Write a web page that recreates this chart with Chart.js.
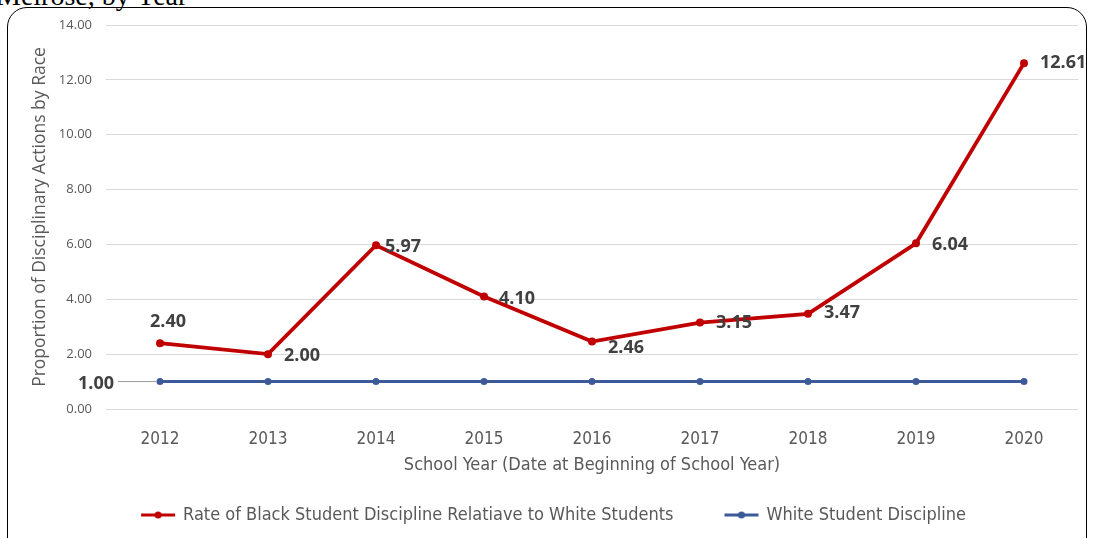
<!DOCTYPE html>
<html>
<head>
<meta charset="utf-8">
<script src="https://cdn.jsdelivr.net/npm/chart.js@4.4.1/dist/chart.umd.min.js"></script>
<style>
  html, body { margin: 0; padding: 0; background: #fff; }
  #wrap { position: relative; width: 1094px; height: 538px; overflow: hidden; }
  #title { position: absolute; left: -4px; top: -20px; font: 28px "Liberation Serif", serif; color: #000; white-space: nowrap; }
  #frame { position: absolute; left: 7px; top: 7px; width: 1078px; height: 560px; border: 1.5px solid #000; border-radius: 20px; }
  canvas { position: absolute; left: 0; top: 0; }
</style>
</head>
<body>
<div id="wrap">
  <div id="title">Melrose, by Year</div>
  <div id="frame"></div>
  <canvas id="c" width="1094" height="538"></canvas>
</div>
<script>
const years = ["2012", "2013", "2014", "2015", "2016", "2017", "2018", "2019", "2020"];
const blackRate = [2.40, 2.00, 5.97, 4.10, 2.46, 3.15, 3.47, 6.04, 12.61];
const whiteRate = [1.00, 1.00, 1.00, 1.00, 1.00, 1.00, 1.00, 1.00, 1.00];
const yTicks = [0, 2, 4, 6, 8, 10, 12, 14];

const RED = "#C00000";
const BLUE = "#3C5A99";
const LABEL_FONT = "bold 18px 'Open Sans', sans-serif";
const NARROW = "'Liberation Sans Narrow', 'DejaVu Sans Condensed', sans-serif";

// where each data label sits relative to its point: [dx, dy, align]
const redLabelPos = [
  [8, -21, "center"], [16, 2, "left"], [9, 2, "left"], [15, 2, "left"], [16, 6, "left"],
  [16, 0, "left"], [16, -1, "left"], [16, 2, "left"], [16, 0, "left"]
];

function legendMarker(color) {
  const c = document.createElement("canvas");
  c.width = 36; c.height = 10;
  const g = c.getContext("2d");
  g.strokeStyle = color; g.lineWidth = 3;
  g.beginPath(); g.moveTo(1, 5); g.lineTo(35, 5); g.stroke();
  g.fillStyle = color;
  g.beginPath(); g.arc(18, 5, 3.5, 0, Math.PI * 2); g.fill();
  return c;
}

const dataLabels = {
  id: "dataLabels",
  afterDatasetsDraw(chart) {
    const ctx = chart.ctx;
    ctx.save();
    ctx.font = LABEL_FONT;
    ctx.fillStyle = "#404040";
    ctx.textBaseline = "middle";
    chart.getDatasetMeta(0).data.forEach((pt, i) => {
      const [dx, dy, al] = redLabelPos[i];
      ctx.textAlign = al;
      ctx.fillText(blackRate[i].toFixed(2), pt.x + dx, pt.y + dy);
    });
    // white series: only first point labelled, to the left with leader line
    const p0 = chart.getDatasetMeta(1).data[0];
    ctx.strokeStyle = "#9a9a9a";
    ctx.lineWidth = 1;
    ctx.beginPath(); ctx.moveTo(p0.x - 42, p0.y); ctx.lineTo(p0.x - 4, p0.y); ctx.stroke();
    ctx.textAlign = "right";
    ctx.fillText(whiteRate[0].toFixed(2), p0.x - 46, p0.y + 2);
    ctx.restore();
  }
};

new Chart(document.getElementById("c"), {
  type: "line",
  data: {
    labels: years,
    datasets: [
      {
        label: "Rate of Black Student Discipline Relatiave to White Students",
        data: blackRate,
        borderColor: RED,
        backgroundColor: RED,
        borderWidth: 3.8,
        pointRadius: 4,
        pointBackgroundColor: RED,
        pointBorderWidth: 0,
        tension: 0,
      },
      {
        label: "White Student Discipline",
        data: whiteRate,
        borderColor: BLUE,
        backgroundColor: BLUE,
        borderWidth: 3,
        pointRadius: 3.5,
        pointBackgroundColor: BLUE,
        pointBorderWidth: 0,
        tension: 0,
      },
    ],
  },
  options: {
    responsive: false,
    animation: false,
    layout: { padding: { left: 30, right: 16, top: 25, bottom: 4 } },
    plugins: {
      legend: {
        position: "bottom",
        labels: {
          usePointStyle: true,
          pointStyleWidth: 32,
          boxHeight: 10,
          color: "#595959",
          font: { size: 18, family: NARROW },
          padding: 52,
          generateLabels(chart) {
            return chart.data.datasets.map((ds, i) => ({
              text: ds.label,
              fillStyle: ds.borderColor,
              strokeStyle: ds.borderColor,
              pointStyle: legendMarker(ds.borderColor),
              fontColor: "#595959",
              datasetIndex: i,
              hidden: false,
            }));
          },
        },
      },
      tooltip: { enabled: false },
    },
    scales: {
      x: {
        offset: true,
        grid: { display: false },
        border: { display: false },
        ticks: { color: "#595959", font: { size: 17, family: NARROW }, padding: 12 },
        title: {
          display: true,
          text: "School Year (Date at Beginning of School Year)",
          color: "#595959",
          font: { size: 18, family: NARROW },
          padding: { top: -7, bottom: -22 },
        },
      },
      y: {
        min: 0,
        max: 14,
        afterBuildTicks(s) { s.ticks = yTicks.map(v => ({ value: v })); },
        afterFit(s) { s.width = 76; },
        grid: { color: "#D9D9D9", drawTicks: false },
        border: { display: false },
        ticks: {
          color: "#595959",
          font: { size: 13, family: "'Open Sans', sans-serif" },
          padding: 14,
          callback: v => v.toFixed(2),
        },
        title: {
          display: true,
          text: "Proportion of Disciplinary Actions by Race",
          color: "#595959",
          font: { size: 17.5, family: "'Open Sans', sans-serif" },
          padding: 0,
        },
      },
    },
  },
  plugins: [dataLabels],
});
</script>
</body>
</html>
